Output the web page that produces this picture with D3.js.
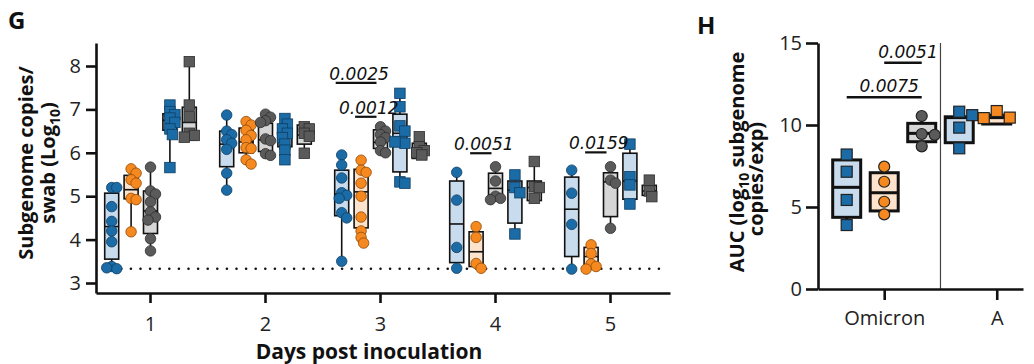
<!DOCTYPE html>
<html>
<head>
<meta charset="utf-8">
<script src="https://cdn.jsdelivr.net/npm/d3@7"></script>
<style>
  body { margin: 0; background: #fff; }
  svg { display: block; font-family: "Open Sans", sans-serif; }
</style>
</head>
<body>
<svg id="chart" width="1034" height="364"></svg>
<script>
// ---- panel G data (log10 sgRNA copies per swab) ----
let days = [1, 2, 3, 4, 5];
let groupKeys = ["blueCircle", "orangeCircle", "grayCircle", "blueSquare", "graySquare"];

let blueCircle = [
  [5.2, 5.2, 4.76, 4.42, 4.2, 3.95, 3.38, 3.33, 3.35],
  [6.87, 6.5, 6.42, 6.3, 6.22, 6.08, 5.53, 5.14],
  [5.95, 5.72, 5.42, 5.08, 5.02, 4.95, 4.62, 4.5, 3.5],
  [5.55, 4.91, 3.82, 3.34],
  [5.6, 5.07, 4.35, 3.32]
];
let orangeCircle = [
  [5.63, 5.53, 5.38, 5.3, 4.95, 4.92, 4.18],
  [6.72, 6.64, 6.52, 6.4, 6.3, 6.12, 6.1, 5.84, 5.74],
  [5.83, 5.6, 5.55, 5.3, 5.0, 4.52, 4.2, 4.05, 3.92],
  [4.3, 4.05, 3.45, 3.34],
  [3.88, 3.68, 3.44, 3.38, 3.32]
];
let grayCircle = [
  [5.67, 5.12, 5.05, 4.87, 4.64, 4.52, 4.45, 4.02, 3.74],
  [6.89, 6.82, 6.74, 6.7, 6.32, 6.28, 5.98, 5.94],
  [6.6, 6.5, 6.42, 6.35, 6.25, 6.05, 6.0],
  [5.68, 5.35, 5.0, 4.95, 4.92],
  [5.68, 5.37, 5.3, 4.26]
];
let blueSquare = [
  [7.1, 6.95, 6.88, 6.8, 6.7, 6.55, 6.42, 5.66],
  [6.79, 6.66, 6.55, 6.45, 6.35, 6.2, 6.06, 5.84],
  [7.37, 7.06, 6.62, 6.5, 6.26, 6.22, 6.25, 5.33, 5.3],
  [5.49, 5.2, 5.08, 4.13],
  [6.2, 5.45, 5.26, 4.82]
];
let graySquare = [
  [8.1, 7.1, 6.83, 6.45, 6.4, 6.36],
  [6.6, 6.55, 6.45, 6.38, 5.99],
  [6.37, 6.14, 6.05, 6.0, 5.95],
  [5.8, 5.22, 5.2, 4.95],
  [5.37, 5.12, 4.99]
];
// box stats [q1, median, q3] per day
let blueCircleBox = [[3.55, 4.3, 5.07], [5.68, 6.2, 6.5], [4.55, 5.05, 5.6], [3.47, 4.36, 5.35], [3.61, 4.7, 5.44]];
let orangeCircleBox = [[4.94, 5.15, 5.48], [6.0, 6.25, 6.57], [4.27, 5.1, 5.62], [3.38, 3.72, 4.18], [3.38, 3.61, 3.82]];
let grayCircleBox = [[4.14, 4.66, 5.12], [6.03, 6.3, 6.68], [6.1, 6.24, 6.53], [5.03, 5.18, 5.53], [4.53, 5.33, 5.54]];
let blueSquareBox = [[6.52, 6.75, 6.9], [6.14, 6.37, 6.55], [5.56, 6.45, 6.89], [4.38, 5.14, 5.35], [4.93, 5.35, 5.99]];
let graySquareBox = [[6.3, 6.7, 7.05], [6.2, 6.41, 6.64], [5.87, 6.03, 6.22], [4.9, 5.2, 5.35], [5.02, 5.12, 5.25]];

let lod = 3.33;

// p-value bars: day, from group, to group, height, label
let sigDay = [3, 3, 4, 5];
let sigFrom = ["blueCircle", "orangeCircle", "orangeCircle", "orangeCircle"];
let sigTo = ["grayCircle", "grayCircle", "grayCircle", "grayCircle"];
let sigLevel = [7.61, 6.83, 5.99, 6.01];
let sigLabel = ["0.0025", "0.0012", "0.0051", "0.0159"];

// ---- panel H data (AUC) ----
let variants = ["Omicron", "A"];
let aucKeys = ["blueSquare", "orangeCircle", "grayCircle", "blueSquare", "orangeSquare"];
let aucValues = [
  [8.2, 7.15, 5.43, 3.9],
  [7.46, 6.54, 5.32, 4.55],
  [10.55, 9.45, 9.4, 8.7],
  [10.81, 10.6, 9.84, 8.58],
  [10.85, 10.45, 10.42]
];
let aucBox = [[4.37, 6.2, 7.87], [4.76, 5.87, 7.09], [8.98, 9.49, 10.1], [8.92, 10.45, 10.5], [10.06, 10.45, 10.6]];
let aucSigFrom = [1, 0];
let aucSigTo = [2, 2];
let aucSigLevel = [13.8, 11.69];
let aucSigLabel = ["0.0051", "0.0075"];

// ---- styles ----
let fills = { blue: "#1b6ba6", orange: "#f5891f", gray: "#5a5a5a" };
let strokes = { blue: "#0f3f63", orange: "#8f4a08", gray: "#2e2e2e" };
let boxFills = { blue: "#c8dcee", orange: "#fde3cb", gray: "#d6d6d6" };
let gData = { blueCircle, orangeCircle, grayCircle, blueSquare, graySquare };
let gBox = { blueCircle: blueCircleBox, orangeCircle: orangeCircleBox, grayCircle: grayCircleBox, blueSquare: blueSquareBox, graySquare: graySquareBox };

function colorOf(key) { return key.startsWith("blue") ? "blue" : key.startsWith("orange") ? "orange" : "gray"; }
function shapeOf(key) { return key.endsWith("Square") ? "square" : "circle"; }

let svg = d3.select("#chart");

// small beeswarm so points spread sideways when they overlap
function swarm(vals, y, minDist, step, maxOff) {
  let placed = [];
  return vals.map(v => {
    let py = y(v);
    let best = 0, bestScore = -1;
    let n = Math.floor(maxOff / step) * 2;
    for (let k = 0; k <= n; k++) {
      let off = k === 0 ? 0 : (k % 2 ? 1 : -1) * Math.ceil(k / 2) * step;
      let d = placed.length ? d3.min(placed, p => Math.hypot(p[0] - off, p[1] - py)) : Infinity;
      if (d >= minDist) { best = off; bestScore = Infinity; break; }
      if (d > bestScore) { bestScore = d; best = off; }
    }
    placed.push([best, py]);
    return best;
  });
}

function drawBox(g, cx, vals, box, y, opt) {
  let c = colorOf(opt.key);
  g.append("line")
    .attr("x1", cx).attr("x2", cx)
    .attr("y1", y(d3.min(vals))).attr("y2", y(d3.max(vals)))
    .attr("stroke", "#111").attr("stroke-width", opt.sw);
  g.append("rect")
    .attr("x", cx - opt.bw / 2).attr("width", opt.bw)
    .attr("y", y(box[2])).attr("height", y(box[0]) - y(box[2]))
    .attr("fill", boxFills[c]).attr("stroke", "#111").attr("stroke-width", opt.sw);
  g.append("line")
    .attr("x1", cx - opt.bw / 2).attr("x2", cx + opt.bw / 2)
    .attr("y1", y(box[1])).attr("y2", y(box[1]))
    .attr("stroke", "#111").attr("stroke-width", opt.sw);

  let offs = swarm(vals, y, opt.minDist, opt.step, opt.maxOff);
  let pts = g.selectAll(null).data(vals).enter();
  if (shapeOf(opt.key) === "circle") {
    pts.append("circle")
      .attr("cx", (d, i) => cx + offs[i]).attr("cy", d => y(d)).attr("r", opt.size / 2)
      .attr("fill", fills[c]).attr("stroke", opt.ptStroke || strokes[c]).attr("stroke-width", opt.ptSw);
  } else {
    pts.append("rect")
      .attr("x", (d, i) => cx + offs[i] - opt.size / 2).attr("y", d => y(d) - opt.size / 2)
      .attr("width", opt.size).attr("height", opt.size)
      .attr("fill", fills[c]).attr("stroke", opt.ptStroke || strokes[c]).attr("stroke-width", opt.ptSw);
  }
}

// =================== Panel G ===================
let xG = d3.scaleLinear().domain([0.5304, 5.5217]).range([96, 670]);
let yG = d3.scaleLinear().domain([2.7696, 8.53]).range([293, 43]);
let slot = d3.scaleBand().domain(groupKeys).range([-48, 49]);
let gx = (day, key) => xG(day) + slot(key) + slot.bandwidth() / 2;

let G = svg.append("g");

// limit of detection
G.append("line")
  .attr("x1", gx(1, "blueCircle")).attr("x2", gx(5, "graySquare") + 15)
  .attr("y1", yG(lod)).attr("y2", yG(lod))
  .attr("stroke", "#111").attr("stroke-width", 2.6)
  .attr("stroke-linecap", "round").attr("stroke-dasharray", "0 9.6");

days.forEach((day, di) => {
  groupKeys.forEach(key => {
    drawBox(G.append("g"), gx(day, key), gData[key][di], gBox[key][di], yG,
      { key, bw: 14, sw: 1.6, size: 10.5, ptSw: 0.8, minDist: 6, step: 2.5, maxOff: 5 });
  });
});

// p-values
sigLabel.forEach((lab, i) => {
  let x1 = gx(sigDay[i], sigFrom[i]) - 6, x2 = gx(sigDay[i], sigTo[i]) - 4;
  let yy = yG(sigLevel[i]);
  G.append("line").attr("x1", x1).attr("x2", x2).attr("y1", yy).attr("y2", yy)
    .attr("stroke", "#111").attr("stroke-width", 2.2);
  G.append("text").attr("x", (x1 + x2) / 2 + 3).attr("y", yy - 3)
    .attr("text-anchor", "middle").attr("font-family", "DejaVu Sans").attr("font-style", "italic")
    .attr("font-size", 17).attr("fill", "#111").text(lab);
});

let yAxisG = G.append("g").attr("transform", "translate(96,0)")
  .call(d3.axisLeft(yG).tickValues([3, 4, 5, 6, 7, 8]).tickFormat(d3.format("d")).tickSize(10).tickSizeOuter(0).tickPadding(5));
let xAxisG = G.append("g").attr("transform", "translate(0,293)")
  .call(d3.axisBottom(xG).tickValues(days).tickFormat(d3.format("d")).tickSize(10).tickSizeOuter(0).tickPadding(14));
[yAxisG, xAxisG].forEach(a => {
  a.selectAll("path, line").attr("stroke", "#111").attr("stroke-width", 2.6);
  a.selectAll("text").attr("font-size", 20).attr("fill", "#222").attr("font-family", "Open Sans");
});

G.append("text").attr("x", 369).attr("y", 359).attr("text-anchor", "middle")
  .attr("font-weight", "bold").attr("font-size", 21).attr("fill", "#111").text("Days post inoculation");

let yTitleG = G.append("text").attr("transform", "translate(33,163) rotate(-90)")
  .attr("text-anchor", "middle").attr("font-weight", "bold").attr("font-size", 20).attr("fill", "#111");
yTitleG.append("tspan").attr("x", 0).attr("y", 0).text("Subgenome copies/");
let l2 = G.append("text").attr("transform", "translate(55,163) rotate(-90)")
  .attr("text-anchor", "middle").attr("font-weight", "bold").attr("font-size", 20).attr("fill", "#111");
l2.append("tspan").text("swab (Log");
l2.append("tspan").attr("font-size", 14).attr("dy", 5).text("10");
l2.append("tspan").attr("dy", -5).text(")");

G.append("text").attr("x", 8).attr("y", 29).attr("font-weight", "bold").attr("font-size", 24).attr("fill", "#111").text("G");

// =================== Panel H ===================
let xH = d3.scaleLinear().domain([-0.765, 4.70]).range([818, 1023]);
let yH = d3.scaleLinear().domain([0, 15]).range([289, 43]);
let Hp = svg.append("g");

Hp.append("line").attr("x1", xH(2.5)).attr("x2", xH(2.5)).attr("y1", yH(15)).attr("y2", yH(0))
  .attr("stroke", "#444").attr("stroke-width", 1.2);

aucValues.forEach((vals, i) => {
  drawBox(Hp.append("g"), xH(i), vals, aucBox[i], yH,
    { key: aucKeys[i], bw: 28, sw: 3, size: 11, ptSw: 1.2, ptStroke: "#222", minDist: 9, step: 13, maxOff: 13 });
});

aucSigLabel.forEach((lab, i) => {
  let x1 = xH(aucSigFrom[i]), x2 = xH(aucSigTo[i]);
  let yy = yH(aucSigLevel[i]);
  Hp.append("line").attr("x1", x1).attr("x2", x2).attr("y1", yy).attr("y2", yy)
    .attr("stroke", "#111").attr("stroke-width", 2.4);
  Hp.append("text").attr("x", (x1 + x2) / 2 + 5).attr("y", yy - 5)
    .attr("text-anchor", "middle").attr("font-family", "DejaVu Sans").attr("font-style", "italic")
    .attr("font-size", 17).attr("fill", "#111").text(lab);
});

let yAxisH = Hp.append("g").attr("transform", "translate(818,0)")
  .call(d3.axisLeft(yH).tickValues([0, 5, 10, 15]).tickSize(12).tickSizeOuter(0).tickPadding(4));
let xAxisH = Hp.append("g").attr("transform", "translate(0,289)")
  .call(d3.axisBottom(xH).tickValues([1, 4]).tickFormat((d, i) => variants[i]).tickSize(11).tickSizeOuter(0).tickPadding(11));
[yAxisH, xAxisH].forEach(a => {
  a.selectAll("path, line").attr("stroke", "#111").attr("stroke-width", 2.6);
  a.selectAll("text").attr("font-size", 20).attr("fill", "#222").attr("font-family", "Open Sans");
});

let h1 = Hp.append("text").attr("transform", "translate(744,162) rotate(-90)")
  .attr("text-anchor", "middle").attr("font-weight", "bold").attr("font-size", 20).attr("fill", "#111");
h1.append("tspan").text("AUC (log");
h1.append("tspan").attr("font-size", 14).attr("dy", 5).text("10");
h1.append("tspan").attr("dy", -5).text(" subgenome");
Hp.append("text").attr("transform", "translate(763,179) rotate(-90)")
  .attr("text-anchor", "middle").attr("font-weight", "bold").attr("font-size", 20).attr("fill", "#111")
  .text("copies/exp)");

Hp.append("text").attr("x", 697).attr("y", 34).attr("font-weight", "bold").attr("font-size", 24).attr("fill", "#111").text("H");
</script>
</body>
</html>
